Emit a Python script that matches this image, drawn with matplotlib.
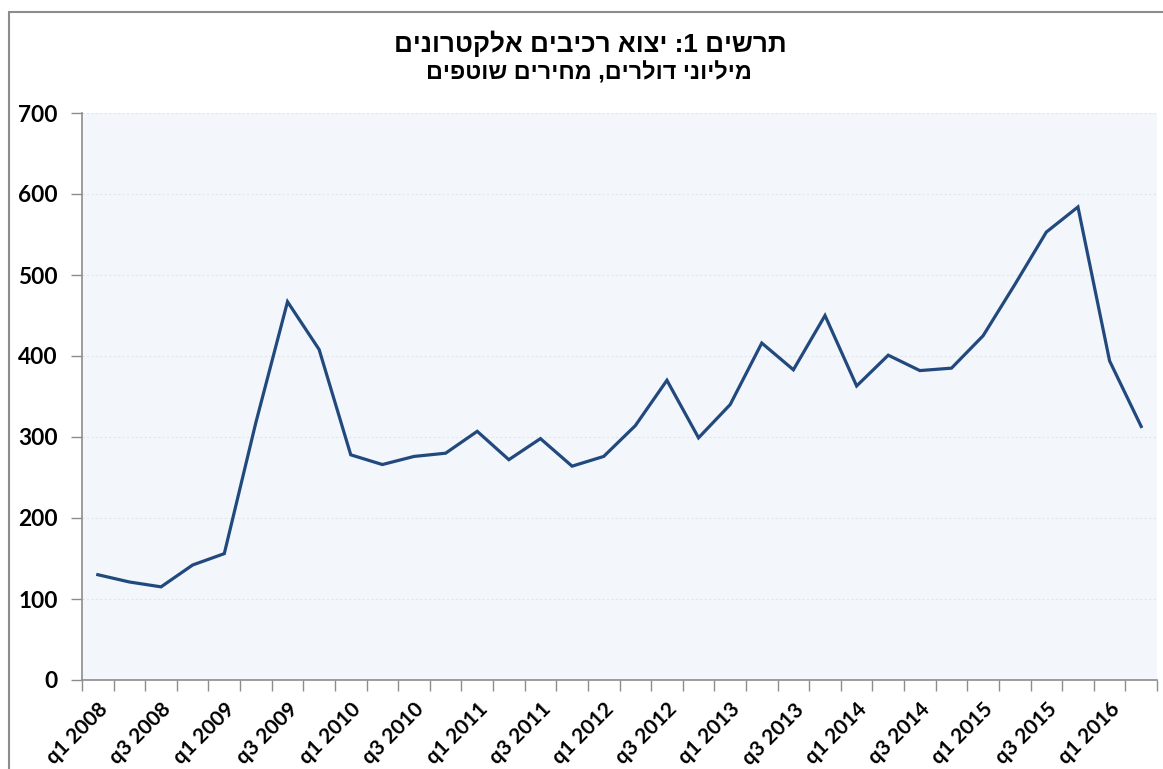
import re

import matplotlib
matplotlib.use("Agg")
import matplotlib.pyplot as plt
from matplotlib.patches import Rectangle
import numpy as np

years = list(range(2008, 2017))
quarters = [f"q{q} {y}" for y in years for q in (1, 2, 3, 4)][:34]
export_values = [130, 121, 115, 142, 156, 318, 467, 408, 278, 266, 276, 280,
                 307, 272, 298, 264, 276, 314, 370, 299, 340, 416, 383, 450,
                 363, 401, 382, 385, 425, 488, 553, 584, 394, 313]
y_ticks = [0, 100, 200, 300, 400, 500, 600, 700]

title = "תרשים 1: יצוא רכיבים אלקטרונים"
subtitle = "מיליוני דולרים, מחירים שוטפים"


def visual_rtl(text: str) -> str:
    """Reverse a Hebrew string for LTR drawing, keeping digit runs in order."""
    parts = re.split(r"(\d+)", text)
    return "".join(p if p.isdigit() else p[::-1] for p in reversed(parts))


W, H = 1163, 769
fig = plt.figure(figsize=(W / 100, H / 100), dpi=100)
ax = fig.add_axes((82 / W, 1 - 680 / H, (1157 - 82) / W, (680 - 113) / H))
ax.set_facecolor("#F3F6FB")

x = np.arange(len(export_values))
ax.plot(x, export_values, color="#22497D", linewidth=2.3, solid_joinstyle="miter")

ax.set_xlim(-0.5, len(export_values) - 0.5)
ax.set_ylim(0, 700)

ax.set_yticks(y_ticks)
ax.set_yticklabels([str(v) for v in y_ticks], fontfamily="Lato",
                   fontweight="bold", fontsize=16.3)
ax.tick_params(axis="y", length=8, width=1, color="#8C8C8C", pad=9.5)
ax.yaxis.grid(True, color="#E2E6EC", linestyle=(0, (2, 2)), linewidth=0.8)
ax.set_axisbelow(True)

ax.set_xticks(np.arange(-0.5, len(export_values)), minor=False)
ax.set_xticklabels([])
ax.tick_params(axis="x", which="major", length=8, width=1, color="#8C8C8C")
label_pos = x[::2]
ax.set_xticks(label_pos, minor=True)
ax.set_xticklabels([quarters[i] for i in label_pos], minor=True, rotation=45,
                   ha="right", rotation_mode="anchor", fontfamily="Lato",
                   fontweight="bold", fontsize=15)
ax.tick_params(axis="x", which="minor", length=0, pad=14)

for side in ("top", "right"):
    ax.spines[side].set_visible(False)
for side in ("left", "bottom"):
    ax.spines[side].set_color("#8C8C8C")
    ax.spines[side].set_linewidth(1.2)

fig.text(590 / W, 1 - 44 / H, visual_rtl(title), ha="center", va="center",
         fontfamily="Liberation Sans", fontweight="bold", fontsize=18.8)
fig.text(589 / W, 1 - 73 / H, visual_rtl(subtitle), ha="center", va="center",
         fontfamily="Liberation Sans", fontweight="bold", fontsize=16.8)

# outer chart frame (only top and left edges fall inside the image)
fig.patches.append(Rectangle((9 / W, -0.1), 1.2, 1 - 12 / H + 0.1,
                             transform=fig.transFigure, fill=False,
                             edgecolor="#8C8C8C", linewidth=1.5))

fig.savefig("out.png", dpi=100)
